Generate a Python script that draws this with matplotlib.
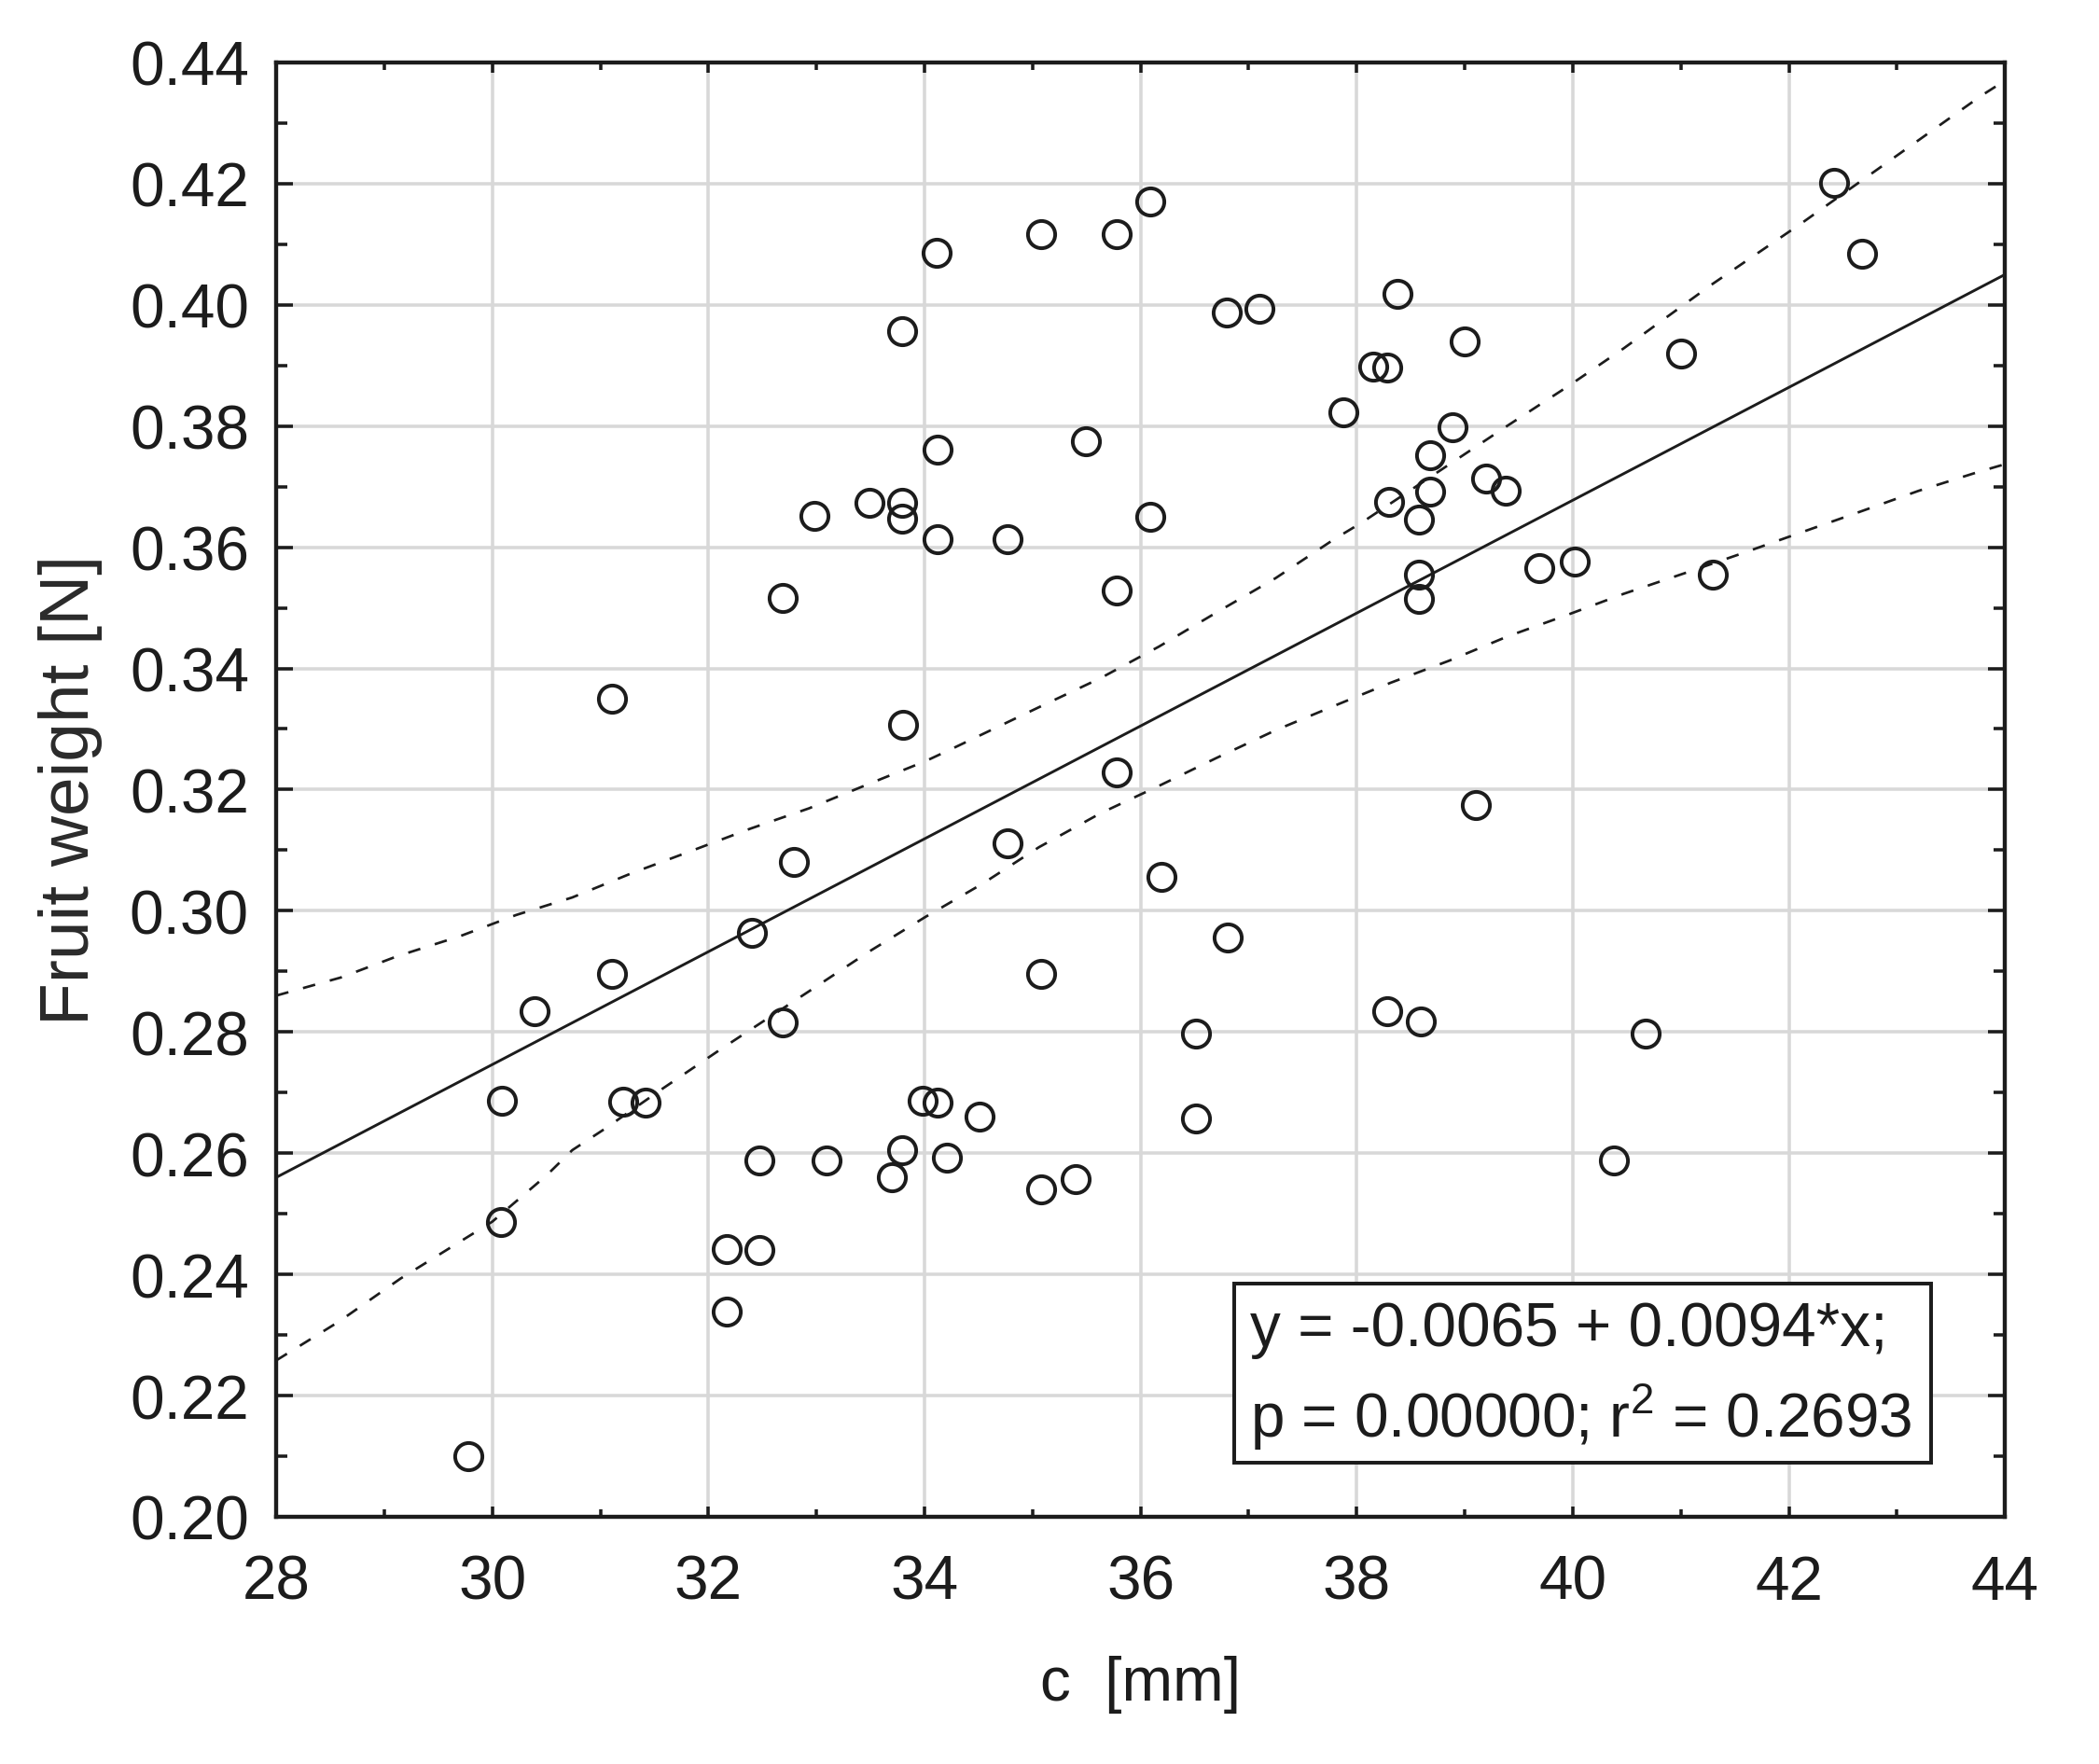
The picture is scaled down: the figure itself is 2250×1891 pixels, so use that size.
import matplotlib
matplotlib.use("Agg")
import matplotlib.pyplot as plt
from matplotlib.patches import Rectangle
from matplotlib.ticker import MultipleLocator, FormatStrFormatter

plt.rcParams["font.family"] = ["Liberation Sans", "DejaVu Sans"]
plt.rcParams["mathtext.fontset"] = "custom"
plt.rcParams["mathtext.rm"] = "Liberation Sans"
plt.rcParams["mathtext.it"] = "Liberation Sans"

# scatter: fruit dimension c [mm] vs fruit weight [N]
c_mm = [29.78, 30.08, 30.09, 30.39, 31.11, 31.11, 31.21, 31.42, 32.17, 32.17,
        32.47, 32.47, 32.40, 32.69, 32.69, 32.79, 32.98, 33.09, 33.49, 33.70,
        33.79, 33.80, 33.79, 33.79, 33.79, 33.98, 34.12, 34.12, 34.12, 34.11,
        34.21, 34.51, 34.77, 34.77, 35.08, 35.08, 35.08, 35.40, 35.49, 35.78,
        35.78, 35.78, 36.09, 36.09, 36.19, 36.51, 36.51, 36.81, 36.80, 37.10,
        37.88, 38.15, 38.28, 38.30, 38.28, 38.38, 38.58, 38.58, 38.58, 38.59,
        38.68, 38.68, 38.89, 39.00, 39.10, 39.20, 39.38, 39.69, 40.02, 40.38,
        40.67, 41.00, 41.30, 42.42, 42.68]
weight = [0.2100, 0.2486, 0.2687, 0.2834, 0.3350, 0.2896, 0.2685, 0.2684, 0.2442, 0.2338,
          0.2440, 0.2588, 0.2963, 0.2816, 0.3516, 0.3080, 0.3651, 0.2588, 0.3673, 0.2560,
          0.2605, 0.3307, 0.3673, 0.3647, 0.3956, 0.2686, 0.2683, 0.3761, 0.3614, 0.4086,
          0.2592, 0.2660, 0.3614, 0.3112, 0.2540, 0.2896, 0.4117, 0.2557, 0.3775, 0.4116,
          0.3528, 0.3228, 0.4171, 0.3650, 0.3056, 0.2797, 0.2658, 0.2956, 0.3987, 0.3993,
          0.3823, 0.3898, 0.3897, 0.3675, 0.2834, 0.4018, 0.3645, 0.3555, 0.3514, 0.2817,
          0.3752, 0.3692, 0.3798, 0.3939, 0.3175, 0.3713, 0.3693, 0.3566, 0.3576, 0.2588,
          0.2798, 0.3920, 0.3555, 0.4201, 0.4084]

# fitted line, read at both ends of the x range
fit_x = [28.0, 44.0]
fit_y = [0.2560, 0.4050]

# confidence band
upper_x = [28.0, 28.6, 29.12, 29.7, 30.22, 30.74, 31.29, 31.83, 32.38, 32.93,
           33.48, 34.01, 34.25, 35.06, 35.63, 36.17, 36.7, 37.25, 37.79, 38.05,
           39.40, 39.96, 40.47, 41.05, 41.29, 42.12, 43.78, 44.0]
upper_y = [0.2860, 0.2890, 0.2925, 0.2958, 0.2993, 0.3022, 0.3062, 0.3098, 0.3135, 0.3169,
           0.3209, 0.3247, 0.3267, 0.3336, 0.3384, 0.3436, 0.3492, 0.3549, 0.3613, 0.3641,
           0.3801, 0.3866, 0.3928, 0.4003, 0.4034, 0.4135, 0.4345, 0.4370]
lower_x = [28.0, 28.58, 29.15, 30.0, 30.5, 30.74, 31.04, 31.58, 32.11, 32.4,
           32.93, 33.49, 34.01, 34.54, 35.06, 35.63, 36.18, 36.7, 37.25, 37.79,
           38.31, 38.86, 39.4, 39.96, 40.47, 41.05, 41.57, 42.14, 42.65, 43.2,
           43.75, 44.0]
lower_y = [0.2258, 0.2322, 0.2393, 0.2487, 0.2563, 0.2605, 0.2640, 0.2707, 0.2771, 0.2805,
           0.2867, 0.2933, 0.2990, 0.3045, 0.3105, 0.3161, 0.3207, 0.3252, 0.3298, 0.3338,
           0.3376, 0.3413, 0.3453, 0.3489, 0.3523, 0.3558, 0.3590, 0.3626, 0.3658, 0.3693,
           0.3724, 0.3737]

eq_text = "y = -0.0065 + 0.0094*x;"
stat_text = "p = 0.00000; r$^2$ = 0.2693"

x_lim = (28, 44)
y_lim = (0.20, 0.44)
ink = "#1c1c1c"
fs = 31.5

fig = plt.figure(figsize=(15, 12.6133), dpi=150)
ax = fig.add_axes([0.1316, 0.1401, 0.8236, 0.8240])

# points
ax.plot(c_mm, weight, linestyle="none", marker="o", ms=14, mfc="none",
        mec=ink, mew=1.9, zorder=4)

# fit line and band
ax.plot(fit_x, fit_y, color=ink, lw=1.4, zorder=3)
ax.plot(upper_x, upper_y, color=ink, lw=1.3, linestyle=(0, (5, 6)), zorder=3)
ax.plot(lower_x, lower_y, color=ink, lw=1.3, linestyle=(0, (5, 6)), zorder=3)

ax.set_xlim(*x_lim)
ax.set_ylim(*y_lim)
ax.xaxis.set_major_locator(MultipleLocator(2))
ax.xaxis.set_minor_locator(MultipleLocator(1))
ax.yaxis.set_major_locator(MultipleLocator(0.02))
ax.yaxis.set_minor_locator(MultipleLocator(0.01))
ax.yaxis.set_major_formatter(FormatStrFormatter("%.2f"))

ax.grid(True, which="major", color="#d8d8d8", lw=1.7)
ax.set_axisbelow(True)

for sp in ax.spines.values():
    sp.set_linewidth(2.1)
    sp.set_color(ink)

ax.tick_params(which="both", direction="in", top=True, right=True,
               color=ink, width=1.7, labelsize=fs, labelcolor=ink)
ax.tick_params(axis="y", which="major", length=8.5, pad=14)
ax.tick_params(axis="y", which="minor", length=5.8)
ax.tick_params(axis="x", which="major", length=5.5, pad=19)
ax.tick_params(axis="x", which="minor", length=3.8)

ax.set_xlabel("c  [mm]", fontsize=fs, color=ink)
ax.set_ylabel("Fruit weight [N]", fontsize=36, color="#2a2a2a")
ax.xaxis.set_label_coords(0.5, -0.095)
ax.yaxis.set_label_coords(-0.1004, 0.5)

# equation box
ax.add_patch(Rectangle((0.5542, 0.0372), 0.4032, 0.1232, transform=ax.transAxes,
                       facecolor="white", edgecolor=ink, lw=1.9, zorder=5))
ax.text(0.5634, 0.118, eq_text, transform=ax.transAxes, fontsize=fs,
        color=ink, va="baseline", ha="left", zorder=6)
ax.text(0.5634, 0.0552, stat_text, transform=ax.transAxes, fontsize=fs,
        color=ink, va="baseline", ha="left", zorder=6)

fig.savefig("out.png", dpi=150)
